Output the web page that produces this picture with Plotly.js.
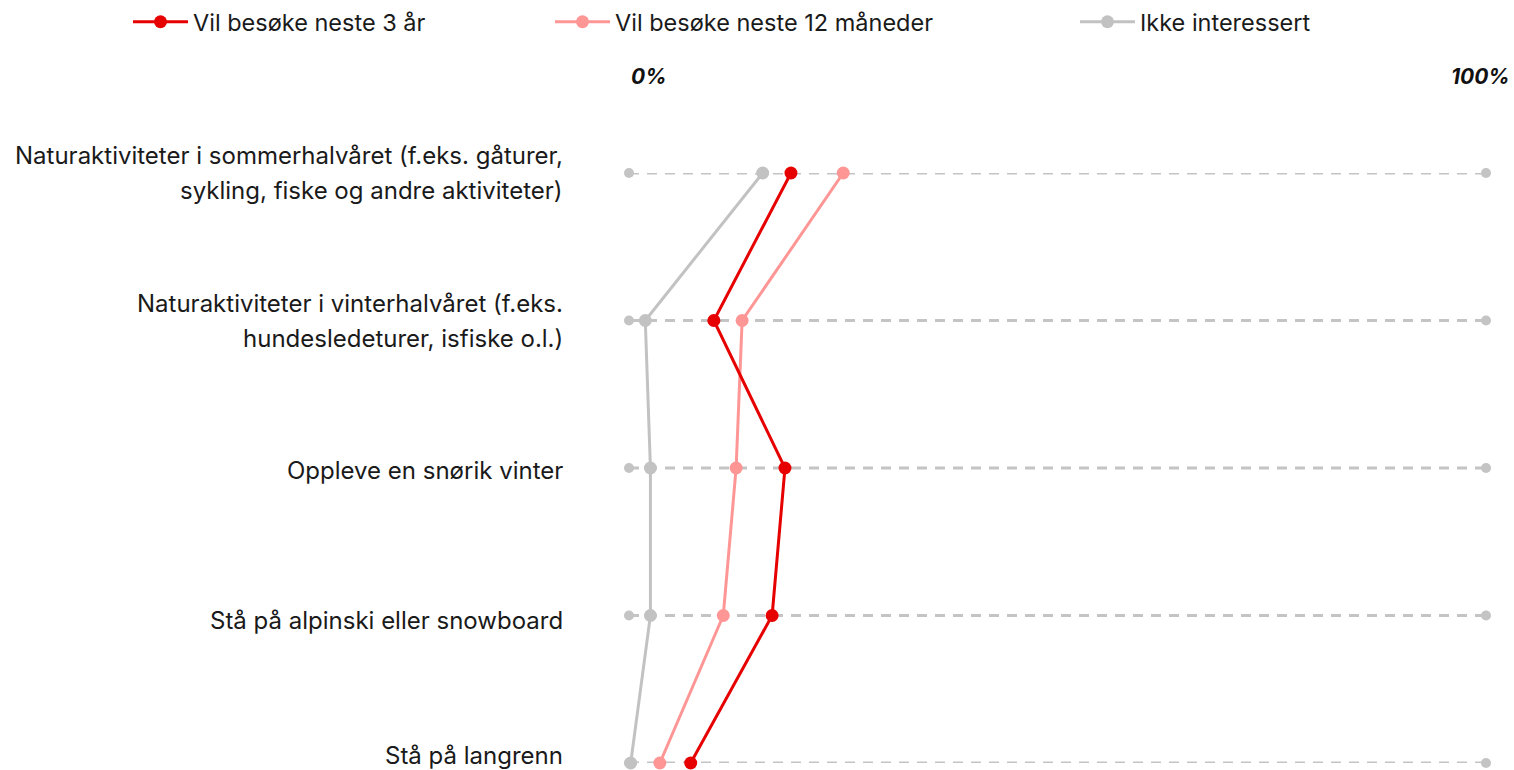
<!DOCTYPE html>
<html>
<head>
<meta charset="utf-8">
<script src="https://cdn.plot.ly/plotly-3.0.1.min.js"></script>
<style>html,body{margin:0;padding:0;background:#fff;}#chart{width:1514px;height:770px;}</style>
</head>
<body>
<div id="chart"></div>
<script>
const categories = [
  "Naturaktiviteter i sommerhalvåret (f.eks. gåturer,<br>sykling, fiske og andre aktiviteter)",
  "Naturaktiviteter i vinterhalvåret (f.eks.<br>hundesledeturer, isfiske o.l.)",
  "Oppleve en snørik vinter",
  "Stå på alpinski eller snowboard",
  "Stå på langrenn"
];
const seriesNames = ["Vil besøke neste 3 år", "Vil besøke neste 12 måneder", "Ikke interessert"];
const treAar = [18.9, 9.9, 18.2, 16.7, 7.2];
const tolvMnd = [25.0, 13.2, 12.5, 11.0, 3.6];
const ikkeInteressert = [15.6, 1.9, 2.5, 2.5, 0.2];
const axisMin = 0, axisMax = 100;
const tickLabels = ["0%", "100%"];

const FONT = "Inter, 'Noto Sans', sans-serif";
const yIdx = categories.map((c, i) => i);

const traces = [];
categories.forEach((c, i) => {
  traces.push({
    x: [axisMin, axisMax], y: [i, i], type: 'scatter', mode: 'lines+markers',
    line: {color: '#c4c4c4', width: 3, dash: '10px,8px'},
    marker: {color: '#c4c4c4', size: 10},
    showlegend: false, hoverinfo: 'skip', cliponaxis: false
  });
});
const seriesData = [ikkeInteressert, tolvMnd, treAar];
const seriesColors = ['#c2c2c2', '#ff9696', '#e60000'];
const seriesLegend = ['legend3', 'legend2', 'legend'];
const seriesLabel = [seriesNames[2], seriesNames[1], seriesNames[0]];
seriesData.forEach((d, k) => {
  traces.push({
    x: d, y: yIdx, type: 'scatter', mode: 'lines+markers', name: seriesLabel[k],
    line: {color: seriesColors[k], width: 3},
    marker: {color: seriesColors[k], size: 13},
    legend: seriesLegend[k], cliponaxis: false
  });
});

const labelShift = [0, 0, -2, -5, 8];
const LINE_GAP = 35;
const annotations = [];
categories.forEach((c, i) => {
  const lines = c.split('<br>');
  lines.forEach((ln, j) => {
    const off = (j - (lines.length - 1) / 2) * LINE_GAP;
    annotations.push({
      xref: 'paper', yref: 'y', x: 0, y: i, xanchor: 'right', yanchor: 'middle',
      xshift: -64, yshift: labelShift[i] - off, text: ln, showarrow: false, align: 'right',
      font: {family: FONT, size: 24, color: '#1a1a1a'}
    });
  });
});
annotations.push({
  xref: 'x', yref: 'paper', x: axisMin, y: 1, yanchor: 'bottom', xanchor: 'left', yshift: 82,
  text: '<i><b>' + tickLabels[0] + '</b></i>', showarrow: false,
  font: {family: FONT, size: 21, color: '#111'}
});
annotations.push({
  xref: 'x', yref: 'paper', x: axisMax, y: 1, yanchor: 'bottom', xanchor: 'right', xshift: 26, yshift: 82,
  text: '<i><b>' + tickLabels[1] + '</b></i>', showarrow: false,
  font: {family: FONT, size: 21, color: '#111'}
});

const legendBase = {
  orientation: 'h', xref: 'container', yref: 'container', yanchor: 'middle', xanchor: 'left',
  y: 1 - 22/770, font: {family: FONT, size: 23.5, color: '#1a1a1a'}, itemwidth: 55,
  bgcolor: 'rgba(0,0,0,0)', borderwidth: 0
};

const layout = {
  width: 1514, height: 770,
  margin: {l: 629, r: 28, t: 173, b: 7},
  paper_bgcolor: '#fff', plot_bgcolor: '#fff',
  font: {family: FONT, size: 20, color: '#1a1a1a'},
  xaxis: {range: [axisMin, axisMax], showgrid: false, zeroline: false, showticklabels: false, showline: false, ticks: ''},
  yaxis: {range: [categories.length - 1, 0], showgrid: false, zeroline: false, showticklabels: false, showline: false, ticks: ''},
  annotations: annotations,
  legend: Object.assign({}, legendBase, {x: 128/1514}),
  legend2: Object.assign({}, legendBase, {x: 550/1514}),
  legend3: Object.assign({}, legendBase, {x: 1075/1514}),
  hovermode: false
};

Plotly.newPlot('chart', traces, layout, {displayModeBar: false, staticPlot: true});
</script>
</body>
</html>
